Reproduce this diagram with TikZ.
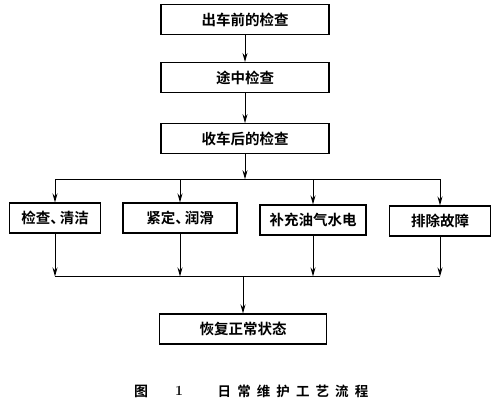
\documentclass[tikz,border=0pt]{standalone}
\usepackage{fontspec}
\newfontfamily\cjk[BoldFont={Noto Sans CJK SC Bold}]{Noto Sans CJK SC}
\newfontfamily\capcjk[LetterSpace=45, BoldFont={Noto Sans CJK SC Bold}]{Noto Sans CJK SC}
\usetikzlibrary{arrows.meta, positioning}

\begin{document}
\begin{tikzpicture}[
  x=1pt, y=1pt,
  box/.style={rectangle, draw, line width=1.1pt,
              minimum width=168pt, minimum height=30pt, inner sep=2pt,
              font=\cjk\bfseries\fontsize{14.5}{16}\selectfont},
  arr/.style={-{Stealth[length=9pt, width=5pt]}, line width=1pt},
  bar/.style={line width=1pt},
  node distance=27pt
]
  \useasboundingbox (0,0) rectangle (500,-407);

  % Checks (top column)
  \node[box] (before) at (245,-19.5) {出车前的检查};
  \node[box, below=27pt of before] (onway) {途中检查};
  \node[box, below=30pt of onway]  (after) {收车后的检查};

  % Maintenance tasks (row)
  \node[box, minimum width=91pt]  (clean)   at (55,-218)  {检查、\kern-5pt清洁};
  \node[box, minimum width=114pt] (tighten) at (180,-218) {紧定、\kern-5pt润滑};
  \node[box, minimum width=106pt] (supply)  at (313,-220) {补充油气水电};
  \node[box, minimum width=101pt] (fault)   at (440,-221) {排除故障};

  % Result
  \node[box, minimum width=167pt] (restore) at (243,-329) {恢复正常状态};

  % Split and merge points
  \coordinate[below=25pt of after.south]   (split);
  \coordinate[above=37pt of restore.north] (merge);

  % Arrows
  \draw[arr] (before) -- (onway);
  \draw[arr] (onway)  -- (after);
  \draw[arr] (after)  -- (split);
  \draw[bar] (split -| clean) -- (split -| fault);
  \foreach \task in {clean, tighten, supply, fault}
    \draw[arr] (split -| \task) -- (\task.north);
  \foreach \task in {clean, tighten, supply, fault}
    \draw[arr] (\task.south) -- (merge -| \task);
  \draw[bar] (merge -| clean) -- (merge -| fault);
  \draw[arr] (merge) -- (restore);

  % Caption
  \node[font=\cjk\bfseries\fontsize{14}{16}\selectfont] (figno) at (141,-391) {图};
  \node[font=\bfseries\fontsize{14}{16}\selectfont, right=20pt of figno] (fignum) {1};
  \node[font=\capcjk\bfseries\fontsize{13.5}{15}\selectfont] (figtitle) at (293,-391) {日常维护工艺流程};
\end{tikzpicture}
\end{document}
